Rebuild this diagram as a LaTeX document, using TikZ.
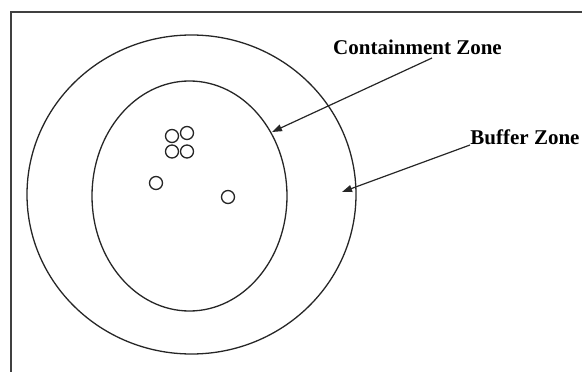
\documentclass[tikz,border=0pt]{standalone}
\usepackage{fontspec}
\setmainfont{Liberation Serif}
\usetikzlibrary{arrows.meta}
\tikzset{
	tri/.tip={Triangle[length=10pt,width=7pt]},
	zone/.style={line width=1.3pt, black!85},
	dot/.style={line width=1.3pt, black!85},
	zonelabel/.style={font=\fontsize{21}{24}\selectfont\bfseries, inner sep=0pt},
	zonearrow/.style={-tri, line width=1.2pt, black!85},
}

\begin{document}
\begin{tikzpicture}[x=1pt, y=-1pt]
	\clip (0,0) rectangle (582,372);
	
	% Frame
	\draw[line width=1.3pt, black!75] (600,12) -- (11,12) -- (11,390);
	
	% Zones
	\draw[zone] (191.5,194.5) ellipse [x radius=164.5, y radius=159.5];
	\draw[zone] (189.5,196) ellipse [x radius=97.5, y radius=115];
	
	% Cases
	\foreach \x/\y in {172/136, 187/133, 172/151.5, 187/151.5, 156/183, 228/197}
		\draw[dot] (\x,\y) circle (6.5);
	
	% Labels
	\node[zonelabel] (cont) at (417.5,47) {Containment Zone};
	\node[zonelabel] (buf) at (525,137) {Buffer Zone};
	
	\coordinate (contfrom) at (432,58);
	\coordinate (contto) at (272,132);
	\coordinate (buffrom) at (470,145);
	\coordinate (bufto) at (342,192);
	\draw[zonearrow] (contfrom) -- (contto);
	\draw[zonearrow] (buffrom) -- (bufto);
\end{tikzpicture}
\end{document}
